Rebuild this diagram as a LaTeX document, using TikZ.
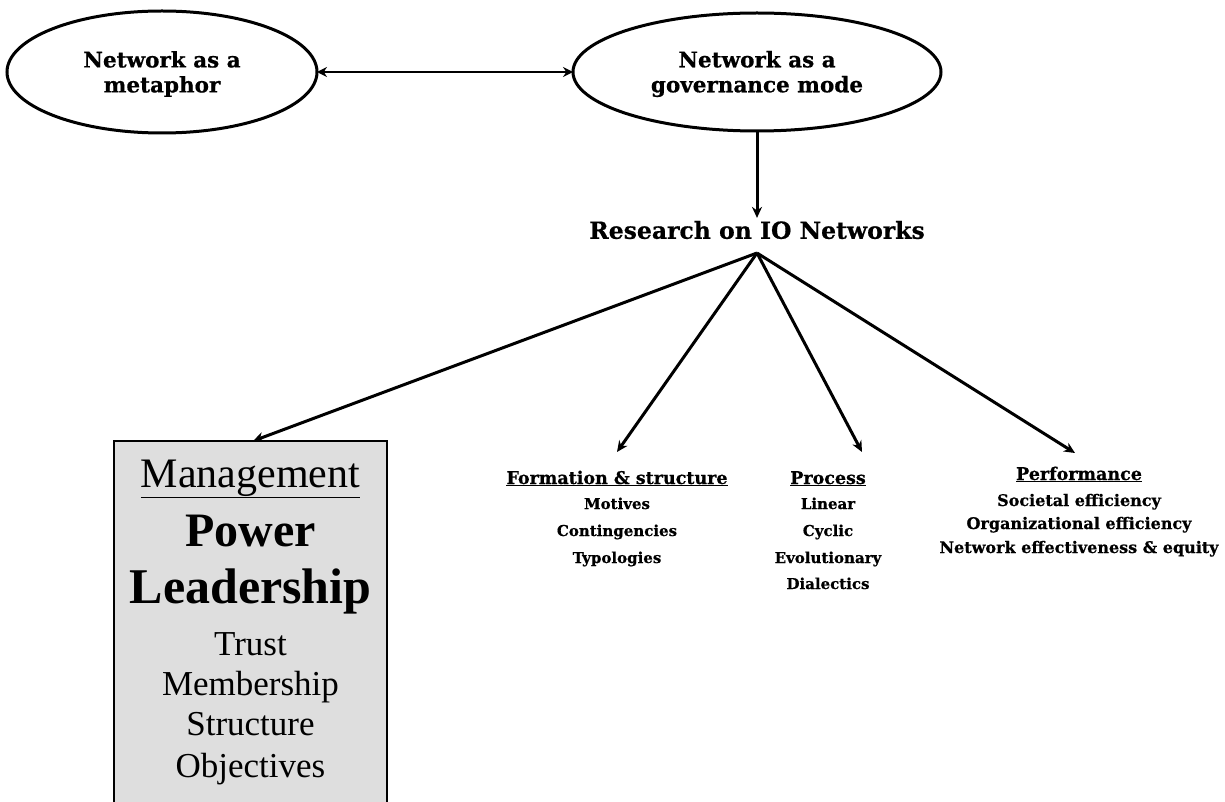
\documentclass[tikz,border=0pt]{standalone}
\usepackage{fontspec}
\setmainfont{Liberation Serif}
\newfontfamily\slab{DejaVu Serif}[FakeBold=0.6]
\usetikzlibrary{shapes.geometric,arrows.meta}

\begin{document}
\begin{tikzpicture}[x=1pt,y=-1pt,
  every node/.style={inner sep=0pt,outer sep=0pt},
  oval/.style={ellipse,draw,line width=3pt,fill=white},
  link/.style={line width=3pt,-{Stealth[length=11pt,width=10pt]}},
  duallink/.style={line width=2.6pt,{Stealth[length=10pt,width=10pt]}-{Stealth[length=10pt,width=10pt]}},
  heavy/.style={font=\slab\bfseries\fontsize{21.5}{25}\selectfont,align=center},
  head/.style={font=\slab\bfseries\fontsize{17.5}{20}\selectfont,anchor=base},
  item/.style={font=\slab\bfseries\fontsize{15}{18}\selectfont,anchor=base},
  perf/.style={font=\slab\bfseries\fontsize{16}{18}\selectfont,anchor=base},
  boxline/.style={font=\fontsize{35}{40}\selectfont,anchor=base},
]
\clip (0,0) rectangle (1225,802);
\fill[white] (0,0) rectangle (1225,802);

% the two views of a network
\node[oval,minimum width=310,minimum height=122] (meta) at (162,72) {};
\node[heavy] (metat) at (162,74) {Network as a\\metaphor};
\node[oval,minimum width=368,minimum height=118] (gov) at (757,72) {};
\node[heavy] (govt) at (757,74) {Network as a\\governance mode};
\draw[duallink] (meta.east) -- (gov.west);

% research stream
\node[heavy,font=\slab\bfseries\fontsize{23.5}{27}\selectfont,inner ysep=3pt] (research) at (757,230) {Research on IO Networks};
\coordinate (apex) at (757,253);
\draw[link] (gov.south) -- (research.north);

% management box
\node[draw,line width=1.6pt,fill=black!13,minimum width=273,minimum height=420,anchor=north] (mgmt) at (250.5,441) {};
\node[font=\fontsize{42}{46}\selectfont,anchor=base] (m1) at (250.5,487) {\underline{Management}};
\node[font=\bfseries\fontsize{48}{52}\selectfont,anchor=base] (m2) at (250.5,546) {Power};
\node[font=\bfseries\fontsize{50}{54}\selectfont,anchor=base] (m3) at (250.5,603) {Leadership};
\node[boxline] (m4) at (250.5,655) {Trust};
\node[boxline] (m5) at (250.5,695) {Membership};
\node[boxline] (m6) at (250.5,735) {Structure};
\node[boxline] (m7) at (250.5,777) {Objectives};

% formation and structure
\node[head] (f0) at (617,484) {\underline{Formation \& structure}};
\node[item] (f1) at (617,509) {Motives};
\node[item] (f2) at (617,536) {Contingencies};
\node[item] (f3) at (617,563) {Typologies};

% process
\node[head] (p0) at (828,484) {\underline{Process}};
\node[item] (p1) at (828,509) {Linear};
\node[item] (p2) at (828,536) {Cyclic};
\node[item] (p3) at (828,563) {Evolutionary};
\node[item] (p4) at (828,589) {Dialectics};

% performance
\node[head] (q0) at (1079,480) {\underline{Performance}};
\node[perf] (q1) at (1079,506) {Societal efficiency};
\node[perf] (q2) at (1079,529) {Organizational efficiency};
\node[perf] (q3) at (1079,553) {Network effectiveness \& equity};

% branches
\coordinate (ftip) at (617,452);
\coordinate (ptip) at (862,452);
\coordinate (qtip) at (1075,453);
\draw[link] (apex) -- ([xshift=2.5pt]mgmt.north);
\draw[link] (apex) -- (ftip);
\draw[link] (apex) -- (ptip);
\draw[link] (apex) -- (qtip);
\end{tikzpicture}
\end{document}
